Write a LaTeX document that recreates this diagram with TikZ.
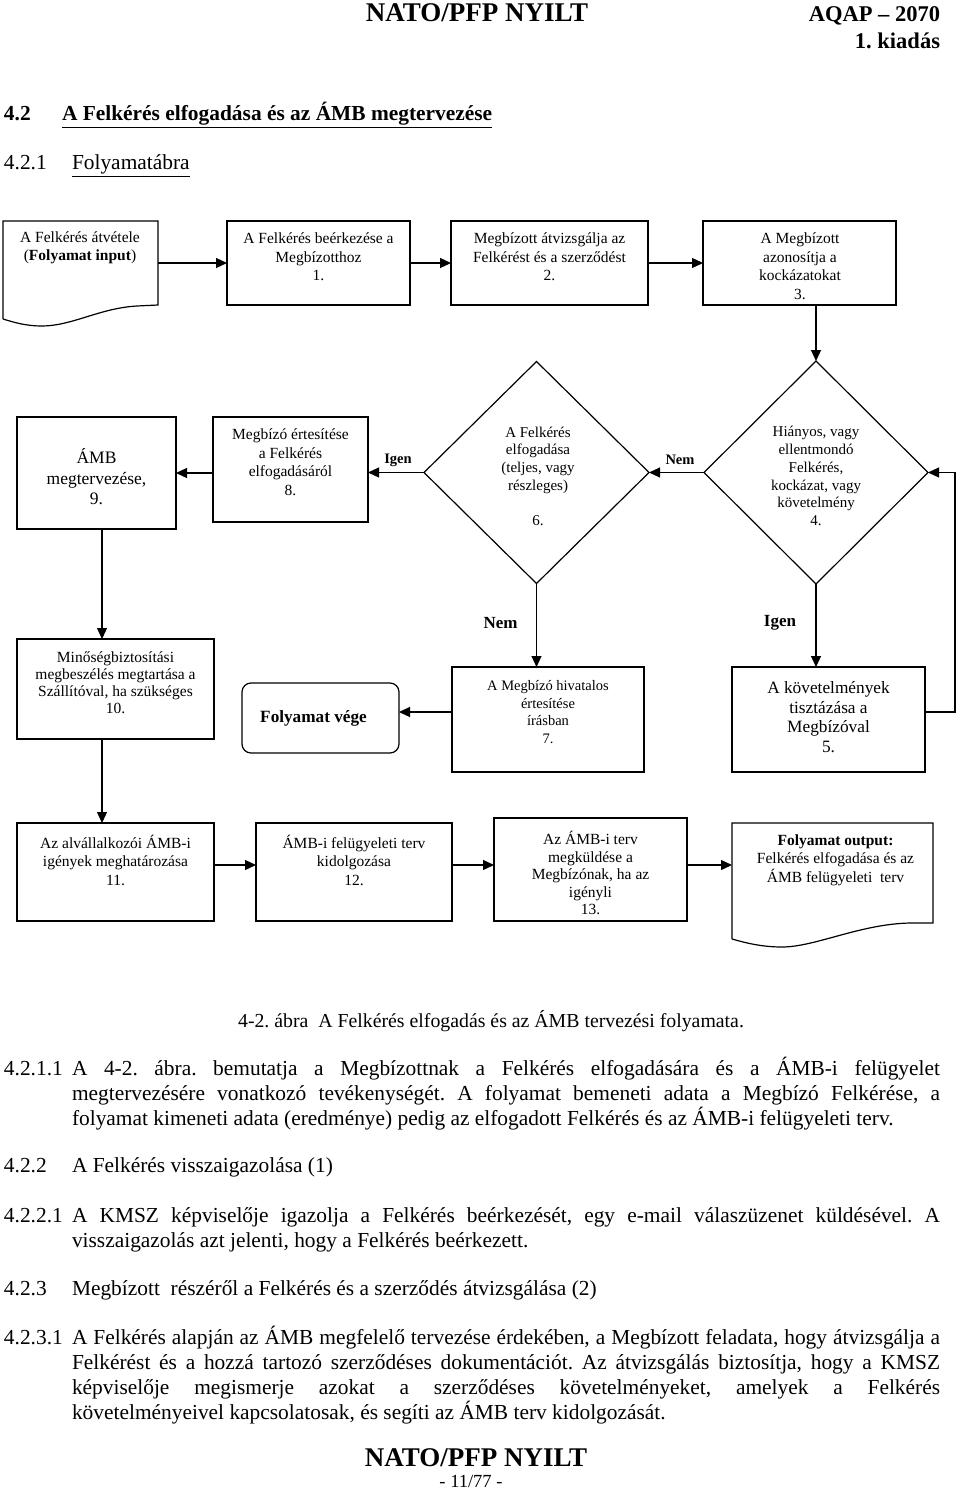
\documentclass[tikz,border=0pt]{standalone}
\usepackage{fontspec}
\setmainfont{Liberation Serif}
\usetikzlibrary{shapes.geometric,arrows.meta}
\begin{document}
\frenchspacing
\begin{tikzpicture}[x=1pt,y=-1pt,
  every node/.style={inner sep=0pt, outer sep=0pt},
  ln/.style={line width=1.2pt},
  box/.style={draw, line width=1.2pt, rectangle},
  ghost/.style={rectangle},
  dia/.style={draw, line width=1.2pt, diamond},
  arr/.style={line width=1.2pt, -{Triangle[length=11pt,width=10pt]}},
  ft/.style={align=center, font=\fontsize{15.5}{18.5}\selectfont},
  ftbig/.style={align=center, font=\fontsize{17.5}{20.5}\selectfont},
  dt/.style={align=center, font=\fontsize{15}{17.8}\selectfont},
  lbl/.style={font=\bfseries\fontsize{14.5}{16}\selectfont},
  lblbig/.style={font=\bfseries\fontsize{17}{19}\selectfont},
  body/.style={font=\fontsize{21.4}{25}\selectfont},
  bodyb/.style={font=\bfseries\fontsize{21.4}{25}\selectfont},
  para/.style={font=\fontsize{21.4}{25}\selectfont, text width=868pt, align=justify, anchor=base west},
]
\useasboundingbox (0,0) rectangle (960,1490);

% ---------- page header ----------
\node[anchor=base, font=\bfseries\fontsize{27}{30}\selectfont] (hdr) at (477,22) {NATO/PFP NYILT};
\node[anchor=base east, font=\bfseries\fontsize{22.5}{25}\selectfont] (aqap) at (940,22) {AQAP – 2070};
\node[anchor=base east, font=\bfseries\fontsize{22.5}{25}\selectfont] (kiad) at (940,49) {1. kiadás};

\node[anchor=base west, bodyb] (h42n) at (4,121) {4.2};
\node[anchor=base west, bodyb] (h42) at (62,121) {\underline{A Felkérés elfogadása és az ÁMB megtervezése}};
\node[anchor=base west, body] (h421n) at (4,170) {4.2.1};
\node[anchor=base west, body] (h421) at (72,170) {\underline{Folyamatábra}};

% ---------- flowchart nodes ----------
\node[ghost, minimum width=155pt, minimum height=84pt] (in) at (80.5,263) {};
\draw[ln] (3,319) -- (3,221) -- (158,221) -- (158,305) -- (137,306)
  .. controls (100,308) and (72,326) .. (42,326)
  .. controls (25,326) and (13,322) .. (3,319);
\node[ft] (tin) at (80,248) {A Felkérés átvétele\\(\textbf{Folyamat input})};

\node[box, minimum width=183pt, minimum height=84pt] (b1) at (318.5,263) {};
\node[ft] (t1) at (318.5,257) {A Felkérés beérkezése a\\Megbízotthoz\\1.};

\node[box, minimum width=197pt, minimum height=84pt] (b2) at (549.5,263) {};
\node[ft] (t2) at (549.5,257) {Megbízott átvizsgálja az\\Felkérést és a szerződést\\2.};

\node[box, minimum width=193pt, minimum height=84pt] (b3) at (799.5,263) {};
\node[ft] (t3) at (800,266) {A Megbízott\\azonosítja a\\kockázatokat\\3.};

\node[dia, minimum width=224pt, minimum height=223pt] (d4) at (816,472.5) {};
\node[dt] (t4) at (816,476) {Hiányos, vagy\\ellentmondó\\Felkérés,\\kockázat, vagy\\követelmény\\4.};

\node[dia, minimum width=225pt, minimum height=222pt] (d6) at (536.5,472.5) {};
\node[dt] (t6) at (538,476) {A Felkérés\\elfogadása\\(teljes, vagy\\részleges)\\[17pt]6.};

\node[box, minimum width=155pt, minimum height=105pt] (b8) at (290.5,469.5) {};
\node[ft] (t8) at (290.5,462) {Megbízó értesítése\\a Felkérés\\elfogadásáról\\8.};

\node[box, minimum width=159pt, minimum height=112pt] (b9) at (96.5,473) {};
\node[ftbig] (t9) at (96.5,477) {ÁMB\\megtervezése,\\9.};

\node[box, minimum width=197pt, minimum height=100pt] (b10) at (115.5,689) {};
\node[align=center, font=\fontsize{15.5}{17}\selectfont] (t10) at (115.5,683) {Minőségbiztosítási\\megbeszélés megtartása a\\Szállítóval, ha szükséges\\10.};

\node[draw, line width=1.2pt, rounded corners=9pt, minimum width=157pt, minimum height=70pt] (fin) at (320.5,718) {};
\node[font=\bfseries\fontsize{17.2}{20}\selectfont] (tfin) at (313.5,718) {Folyamat vége};

\node[box, minimum width=192pt, minimum height=105pt] (b7) at (548,719.5) {};
\node[align=center, font=\fontsize{14.5}{17.6}\selectfont] (t7) at (548,712) {A Megbízó hivatalos\\értesítése\\írásban\\7.};

\node[box, minimum width=193pt, minimum height=105pt] (b5) at (828.5,719.5) {};
\node[align=center, font=\fontsize{17.3}{19.5}\selectfont] (t5) at (828.5,717) {A követelmények\\tisztázása a\\Megbízóval\\5.};

\node[box, minimum width=197pt, minimum height=98pt] (b11) at (115.5,872) {};
\node[ft] (t11) at (115.5,860) {Az alvállalkozói ÁMB-i\\igények meghatározása\\11.};

\node[box, minimum width=196pt, minimum height=98pt] (b12) at (354,872) {};
\node[ft] (t12) at (354,860) {ÁMB-i felügyeleti terv\\kidolgozása\\12.};

\node[box, minimum width=193pt, minimum height=103pt] (b13) at (590.5,869.5) {};
\node[align=center, font=\fontsize{15.5}{17.5}\selectfont] (t13) at (590.5,873) {Az ÁMB-i terv\\megküldése a\\Megbízónak, ha az\\igényli\\13.};

\node[ghost, minimum width=201pt, minimum height=100pt] (out) at (832.5,873) {};
\draw[ln] (732,939) -- (732,823) -- (933,823) -- (933,923) -- (910,923)
  .. controls (860,924) and (815,947) .. (782,947)
  .. controls (762,947) and (746,943) .. (732,939);
\node[ft] (tout) at (835.5,860) {\textbf{Folyamat output:}\\Felkérés elfogadása és az\\ÁMB felügyeleti\ \ terv};

% ---------- connectors ----------
\coordinate (vx) at (102,0);
\coordinate (fb) at (955,0);
\draw[arr] (in.east) -- (b1.west);
\draw[arr] (b1.east) -- (b2.west);
\draw[arr] (b2.east) -- (b3.west);
\draw[arr] (b3.south -| d4.north) -- (d4.north);
\draw[arr] (d4.west) -- (d6.east);
\draw[arr] (d6.west) -- (d6.west -| b8.east);
\draw[arr] (b8.west |- b9.east) -- (b9.east);
\draw[arr] (b9.south -| vx) -- (b10.north -| vx);
\draw[arr] (b10.south -| vx) -- (b11.north -| vx);
\draw[arr] (d6.south) -- (d6.south |- b7.north);
\draw[arr] (d4.south) -- (d4.south |- b5.north);
\draw[arr] ([yshift=7.5pt]b7.west) -- ([yshift=7.5pt]b7.west -| fin.east);
\draw[arr] ([yshift=7.5pt]b5.east) -- ([yshift=7.5pt]b5.east -| fb) -- (fb |- d4.east) -- (d4.east);
\draw[arr] ([yshift=7pt]b11.east) -- ([yshift=7pt]b11.east -| b12.west);
\draw[arr] ([yshift=7pt]b12.east) -- ([yshift=7pt]b12.east -| b13.west);
\draw[arr] ([yshift=7pt]b12.east -| b13.east) -- ([yshift=7pt]b12.east -| out.west);

\node[lbl] (ligen1) at (398,460) {Igen};
\node[lbl] (lnem1) at (680,460) {Nem};
\node[lblbig] (lnem2) at (500.5,623) {Nem};
\node[lblbig] (ligen2) at (780,623) {Igen};

% ---------- text below ----------
\node[anchor=base, font=\fontsize{19.8}{25}\selectfont] (cap) at (491,1027) {4-2. ábra\ \ A Felkérés elfogadás és az ÁMB tervezési folyamata.};

\node[anchor=base west, body] (p1n) at (4,1075) {4.2.1.1};
\node[para] (p1) at (72,1075) {\spaceskip=.25em plus .3em minus .14em A 4-2. ábra. bemutatja a Megbízottnak a Felkérés elfogadására és a ÁMB-i felügyelet\linebreak megtervezésére vonatkozó tevékenységét. A folyamat bemeneti adata a Megbízó Felkérése, a\linebreak folyamat kimeneti adata (eredménye) pedig az elfogadott Felkérés és az ÁMB-i felügyeleti terv.};

\node[anchor=base west, body] (h422n) at (4,1172) {4.2.2};
\node[anchor=base west, body] (h422) at (72,1172) {A Felkérés visszaigazolása (1)};

\node[anchor=base west, body] (p2n) at (4,1222) {4.2.2.1};
\node[para] (p2) at (72,1222) {\spaceskip=.25em plus .3em minus .14em A KMSZ képviselője igazolja a Felkérés beérkezését, egy e-mail válaszüzenet küldésével. A\linebreak visszaigazolás azt jelenti, hogy a Felkérés beérkezett.};

\node[anchor=base west, body] (h423n) at (4,1295) {4.2.3};
\node[anchor=base west, body] (h423) at (72,1295) {Megbízott\ \ részéről a Felkérés és a szerződés átvizsgálása (2)};

\node[anchor=base west, body] (p3n) at (4,1344) {4.2.3.1};
\node[para] (p3) at (72,1344) {\spaceskip=.25em plus .3em minus .14em A Felkérés alapján az ÁMB megfelelő tervezése érdekében, a Megbízott feladata, hogy átvizsgálja a\linebreak Felkérést és a hozzá tartozó szerződéses dokumentációt. Az átvizsgálás biztosítja, hogy a KMSZ\linebreak képviselője megismerje azokat a szerződéses követelményeket, amelyek a Felkérés\linebreak követelményeivel kapcsolatosak, és segíti az ÁMB terv kidolgozását.};

\node[anchor=base, font=\bfseries\fontsize{27}{30}\selectfont] (ftr) at (476,1466) {NATO/PFP NYILT};
\node[anchor=base, font=\fontsize{18.5}{20}\selectfont] (pg) at (471,1487) {- 11/77 -};
\end{tikzpicture}
\end{document}
